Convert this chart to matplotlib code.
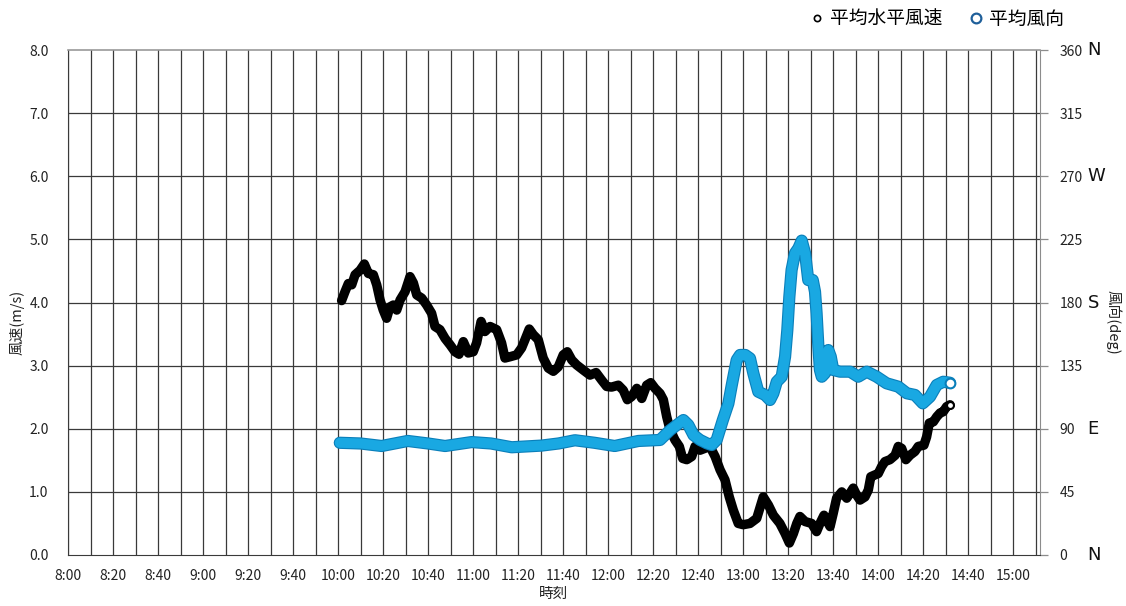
import numpy as np
import matplotlib.pyplot as plt
from matplotlib.lines import Line2D
import matplotlib.patheffects as pe

plt.rcParams['font.family'] = ['Noto Sans CJK JP', 'DejaVu Sans']

# minutes after 10:00 and mean horizontal wind speed (m/s)
speed_min = [1.6, 3.1, 4.6, 6.1, 7.6, 9.8, 11.7, 13.5, 15.7, 17.2, 18.7, 20.1, 21.6, 23.1, 24.6,
             26.1, 27.6, 29.8, 32.0, 33.5, 35.0, 37.2, 39.4, 41.6, 43.1, 45.3, 47.6, 49.8, 52.0,
             53.8, 55.7, 57.9, 60.1, 61.6, 63.6, 65.3, 67.6, 70.5, 72.7, 74.2, 76.4, 79.4, 81.6,
             83.1, 85.0, 86.8, 89.0, 91.2, 93.5, 95.7, 97.9, 100.1, 101.9, 103.9, 106.1, 109.0,
             112.0, 114.7, 117.2, 119.4, 121.6, 124.6, 126.8, 128.6, 130.5, 132.8, 135.0, 137.2,
             139.0, 140.9, 143.1, 144.6, 146.1, 147.6, 149.8, 151.7, 153.2, 155.0, 157.2, 158.7,
             160.9, 163.1, 165.3, 167.6, 169.8, 172.0, 173.9, 175.7, 177.9, 180.1, 183.1, 186.1,
             189.0, 191.3, 193.5, 196.4, 198.7, 200.6, 202.4, 203.9, 205.3, 207.6, 210.5, 212.7,
             214.2, 216.0, 217.2, 218.7, 220.1, 221.6, 223.9, 226.1, 227.6, 229.0, 230.5, 232.0,
             234.2, 235.7, 236.8, 238.7, 240.1, 241.6, 243.1, 245.3, 247.6, 249.0, 250.5, 252.4,
             254.2, 256.4, 257.9, 260.4, 261.6, 262.8, 264.6, 266.1, 267.6, 269.0, 270.5, 272.0]
speed_val = [4.03, 4.17, 4.30, 4.28, 4.44, 4.51, 4.61, 4.46, 4.44, 4.28, 4.04, 3.88, 3.75, 3.93, 3.96,
             3.88, 4.04, 4.17, 4.41, 4.31, 4.12, 4.07, 3.96, 3.83, 3.62, 3.57, 3.43, 3.33, 3.22,
             3.18, 3.38, 3.20, 3.22, 3.36, 3.70, 3.54, 3.62, 3.57, 3.36, 3.12, 3.14, 3.17, 3.28,
             3.41, 3.58, 3.49, 3.41, 3.12, 2.96, 2.91, 2.98, 3.17, 3.22, 3.09, 3.01, 2.93,
             2.85, 2.89, 2.77, 2.67, 2.66, 2.69, 2.61, 2.46, 2.51, 2.64, 2.48, 2.69,
             2.73, 2.64, 2.56, 2.46, 2.19, 1.98, 1.82, 1.72, 1.53, 1.51, 1.56, 1.72,
             1.66, 1.69, 1.72, 1.56, 1.35, 1.19, 0.92, 0.71, 0.50, 0.48, 0.50, 0.58,
             0.92, 0.79, 0.63, 0.50, 0.34, 0.19, 0.34, 0.50, 0.61, 0.53, 0.50, 0.37,
             0.50, 0.63, 0.55, 0.45, 0.66, 0.90, 1.00, 0.90, 0.98, 1.06, 0.95, 0.87,
             0.92, 1.03, 1.24, 1.27, 1.29, 1.40, 1.48, 1.51, 1.58, 1.72, 1.69, 1.51,
             1.58, 1.64, 1.72, 1.74, 1.87, 2.09, 2.11, 2.19, 2.25, 2.27, 2.35, 2.38]

# minutes after 10:00 and mean wind direction (deg)
dir_min = [0.8, 10.0, 19.4, 31.0, 40.0, 47.6, 59.4, 68.0, 77.2, 90.5, 98.0, 105.3, 114.0, 123.0,
           133.5, 143.1, 147.6, 150.6, 153.5, 155.7, 158.0, 160.9, 163.9, 166.1, 168.3, 171.0,
           173.5, 175.0, 177.2, 178.7, 181.0, 183.1, 184.6, 186.8, 189.8, 192.0, 193.5, 195.0,
           197.2, 198.7, 199.7, 200.6, 201.6, 203.1, 204.6, 206.1, 207.6, 208.3, 209.0, 211.0,
           212.0, 212.7, 213.5, 214.2, 215.0, 216.4, 217.9, 219.0, 220.1, 223.1, 227.6, 231.2,
           235.0, 239.4, 243.8, 249.0, 252.8, 256.4, 259.9, 263.1, 266.1, 269.0, 272.0]
dir_val = [80.0, 79.5, 77.7, 81.3, 79.5, 77.7, 80.5, 79.5, 76.8, 78.0, 79.5, 81.8, 80.0, 77.7,
           81.3, 82.0, 89.0, 92.7, 96.2, 92.7, 85.5, 82.0, 79.6, 78.4, 82.0, 96.0,
           108.0, 121.0, 139.0, 142.6, 142.6, 140.2, 129.5, 116.4, 114.1, 110.5, 115.3, 123.5,
           127.1, 141.4, 160.4, 184.1, 203.2, 215.1, 218.6, 224.1, 215.1, 205.5, 196.0, 196.0,
           187.7, 172.3, 148.5, 131.9, 127.1, 129.5, 146.1, 141.4, 131.9, 130.7, 130.7, 127.1,
           130.7, 127.1, 122.4, 120.0, 115.3, 114.1, 108.1, 112.8, 121.2, 123.5, 122.8]

speed_ticks = [0, 1, 2, 3, 4, 5, 6, 7, 8]
dir_ticks = [0, 45, 90, 135, 180, 225, 270, 315, 360]
compass = [(0, 'N'), (90, 'E'), (180, 'S'), (270, 'W'), (360, 'N')]

BLUE = '#19a8e2'
BLUE_EDGE = '#0a7fba'

t_speed = 600 + np.array(speed_min)
t_dir = 600 + np.array(dir_min)

fig = plt.figure(figsize=(11.26, 6.06), dpi=100)
ax = fig.add_axes([68 / 1126, 1 - 555 / 606, 972 / 1126, 505 / 606])
ax2 = ax.twinx()

ax.set_xlim(480, 912)
ax.set_ylim(0, 8)
ax2.set_ylim(0, 360)

# grid: every 10 min vertically, every 1.0 horizontally
for x in range(480, 911, 10):
    ax.axvline(x, color='#3a3a3a', lw=0.9, zorder=0)
for y in speed_ticks[1:-1]:
    ax.axhline(y, color='#3a3a3a', lw=0.9, zorder=0)

ax.plot(t_speed, speed_val, color='black', lw=6.8, solid_capstyle='round',
        solid_joinstyle='round', zorder=3)
ax.plot(t_speed[-1], speed_val[-1], 'o', ms=5, mfc='white', mec='black', mew=1.5, zorder=4)

ax2.plot(t_dir, dir_val, color=BLUE, lw=7.2, solid_capstyle='round', solid_joinstyle='round',
         path_effects=[pe.Stroke(linewidth=8.8, foreground=BLUE_EDGE), pe.Normal()], zorder=3)
ax2.plot(t_dir[-1], dir_val[-1], 'o', ms=7, mfc='white', mec=BLUE_EDGE, mew=1.5, zorder=4)

xt = list(range(480, 911, 20))
ax.set_xticks(xt)
ax.set_xticklabels([f'{t // 60}:{t % 60:02d}' for t in xt])
ax.set_yticks(speed_ticks)
ax.set_yticklabels([f'{v:.1f}' for v in speed_ticks])
ax2.set_yticks(dir_ticks)

ax.tick_params(axis='x', length=0, pad=10, labelsize=10, colors='#222222')
ax.tick_params(axis='y', length=0, pad=14, labelsize=10, colors='#222222')
ax2.tick_params(axis='y', length=6, width=0.9, color='#8c8c8c', pad=8, labelsize=10,
                labelcolor='#222222')

for sp in ['top', 'right']:
    ax.spines[sp].set_visible(False)
ax2.spines['top'].set_color('#9a9a9a')
ax2.spines['top'].set_linewidth(1.2)
ax2.spines['right'].set_color('#8c8c8c')
ax2.spines['left'].set_color('#3a3a3a')
ax2.spines['bottom'].set_color('#3a3a3a')
ax.spines['left'].set_visible(False)
ax.spines['bottom'].set_visible(False)

ax.set_xlabel('時刻', fontsize=10.5, va='center', color='#222222')
ax.xaxis.set_label_coords(0.5, -0.077)
ax.set_ylabel('風速(m/s)', fontsize=10.5, va='center', color='#222222')
ax.yaxis.set_label_coords(-0.052, 0.46)
ax2.set_ylabel('風向(deg)', fontsize=10.5, rotation=270, va='center', color='#222222')
ax2.yaxis.set_label_coords(1.075, 0.46)

trans = ax2.get_yaxis_transform()
for deg, lab in compass:
    ax2.text(1.049, deg, lab, transform=trans, ha='left', va='center', fontsize=13,
             family=['DejaVu Sans'], color='#111111')

handles = [
    Line2D([], [], ls='none', marker='o', ms=4.5, mfc='white', mec='black', mew=1.2),
    Line2D([], [], ls='none', marker='o', ms=7, mfc='white', mec='#1f5f9a', mew=1.6),
]
fig.legend(handles, ['平均水平風速', '平均風向'], loc='center',
           bbox_to_anchor=(937 / 1126, 1 - 19 / 606), ncol=2, frameon=False,
           fontsize=13.5, handlelength=0.8, handletextpad=0.3, columnspacing=1.4)

fig.savefig('out.png', dpi=100)
